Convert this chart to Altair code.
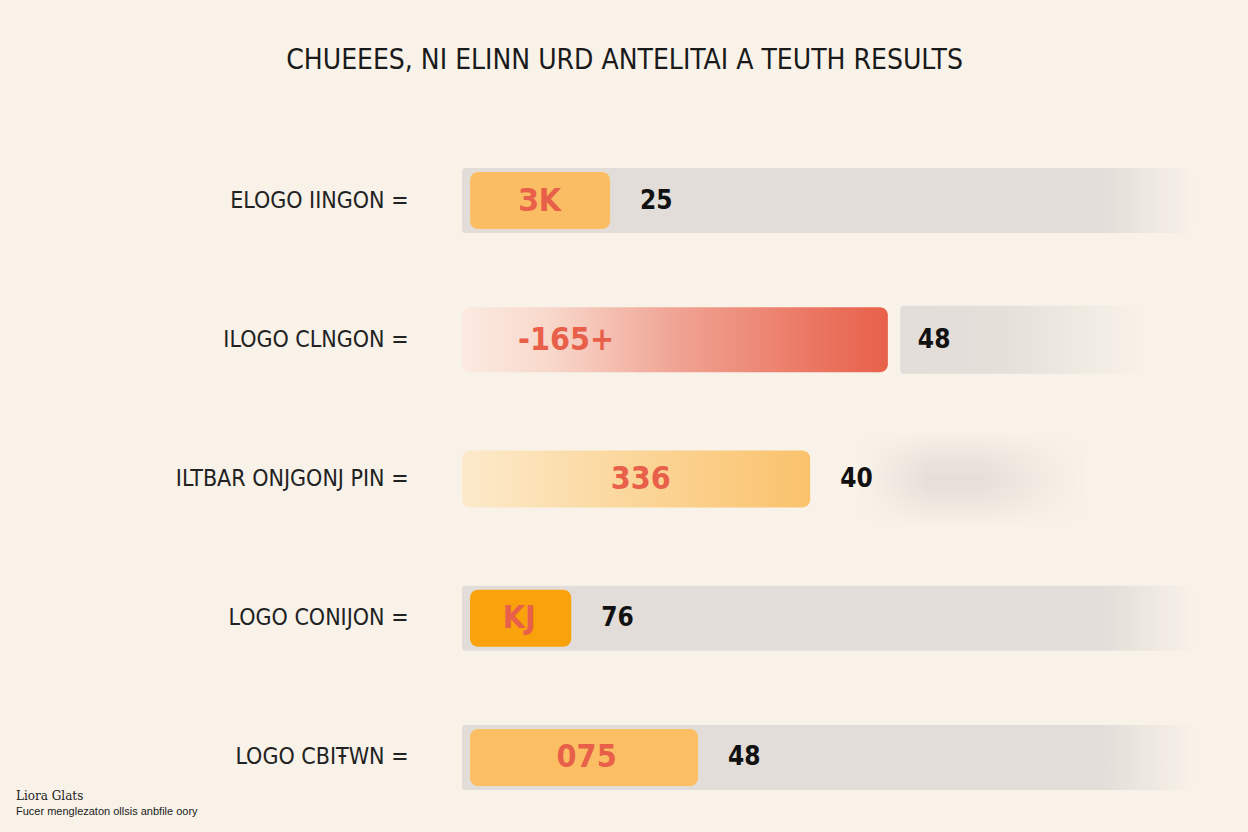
import altair as alt
import pandas as pd

# ---- data ----
labels = ["ELOGO IINGON =", "ILOGO CLNGON =", "ILTBAR ONJGONJ PIN =", "LOGO CONIJON =", "LOGO CBIŦWN ="]
bar_start = [1.1, 0.0, 0.0, 1.1, 1.1]
bar_end = [20.2, 58.1, 47.5, 14.9, 32.2]
inner_text = ["ЗK", "-165+", "336", "KJ", "075"]
inner_pos = [10.6, 14.2, 24.4, 7.8, 17.0]
values = ["25", "48", "40", "76", "48"]
track_start = [0.0, 59.8, 54.5, 0.0, 0.0]
track_end = [100.0, 95.0, 84.5, 100.0, 100.0]
title_text = "CHUEEES, NI ELINN URD ANTELITAI A TEUTH RESULTS"
foot_lines = ["Liora Glats", "Fucer menglezaton ollsis anbfile oory"]

BG = "#F8F2E9"
BG0 = "rgba(248,242,233,0)"
TRACK = "#E2DDD8"
NARROW = "DejaVu Sans Condensed, sans-serif"

df = pd.DataFrame({
    "row": list(range(len(labels))),
    "label": labels,
    "bar_start": bar_start,
    "bar_end": bar_end,
    "inner": inner_text,
    "inner_pos": inner_pos,
    "value": values,
    "track_start": track_start,
    "track_end": track_end,
})

xs = alt.Scale(domain=[0, 100], nice=False, zero=False)
ys = alt.Scale(domain=labels, paddingInner=0, paddingOuter=0)
y_enc = alt.Y("label:N", scale=ys, sort=labels, title=None,
              axis=alt.Axis(domain=False, ticks=False, grid=False, labelFontSize=23,
                            labelFont=NARROW, labelColor="#222222", labelPadding=54,
                            labelFontWeight="normal", labelLimit=0))

base = alt.Chart(df)

def lin(stops, vertical=False):
    if vertical:
        return alt.LinearGradient(gradient="linear", x1=0, x2=0, y1=0, y2=1,
                                  stops=[alt.GradientStop(offset=o, color=c) for o, c in stops])
    return alt.LinearGradient(gradient="linear", x1=0, x2=1, y1=0, y2=0,
                              stops=[alt.GradientStop(offset=o, color=c) for o, c in stops])

full_track = base.transform_filter("indexof([0,3,4], datum.row) >= 0").mark_bar(
    size=65, cornerRadius=3,
    color=lin([(0, TRACK), (0.87, TRACK), (1, BG)])
).encode(x=alt.X("track_start:Q", scale=xs, axis=None), x2="track_end:Q", y=y_enc)

short_track = base.transform_filter("datum.row == 1").mark_bar(
    size=68, cornerRadius=3,
    color=lin([(0, TRACK), (0.38, "#E4DFD9"), (0.95, BG), (1, BG)])
).encode(x=alt.X("track_start:Q", scale=xs), x2="track_end:Q", y=y_enc)

# soft smudge behind the third value: vertical fade, then a horizontal fade over it
shadow_v = base.transform_filter("datum.row == 2").mark_bar(
    size=95,
    color=lin([(0, BG), (0.3, "#EAE4DC"), (0.5, "#E5DFD8"), (0.7, "#EAE4DC"), (1, BG)], vertical=True)
).encode(x=alt.X("track_start:Q", scale=xs), x2="track_end:Q", y=y_enc)
shadow_h = base.transform_filter("datum.row == 2").mark_bar(
    size=96,
    color=lin([(0, BG), (0.3, BG0), (0.55, BG0), (1, BG)])
).encode(x=alt.X("track_start:Q", scale=xs), x2="track_end:Q", y=y_enc)

def bar(row, fill, size):
    return base.transform_filter(f"datum.row == {row}").mark_bar(
        size=size, cornerRadius=8, color=fill
    ).encode(x=alt.X("bar_start:Q", scale=xs), x2="bar_end:Q", y=y_enc)

bars = [
    bar(0, "#FBBD63", 57),
    bar(1, lin([(0, "#FBEAE1"), (0.2, "#F8D9CC"), (0.5, "#F0A494"), (0.8, "#EB7A66"), (1, "#E8604A")]), 65),
    bar(2, lin([(0, "#FCEACB"), (0.45, "#FBD89E"), (1, "#FAC26C")]), 57),
    bar(3, "#F9A20C", 57),
    bar(4, "#FBBE63", 57),
]

inner = base.mark_text(font="DejaVu Sans Condensed", fontWeight="bold", fontSize=32,
                       color="#E8604A", align="center", baseline="middle").encode(
    x=alt.X("inner_pos:Q", scale=xs), y=y_enc, text="inner:N")

vals = base.mark_text(font=NARROW, fontWeight="bold", fontSize=26, color="#111111",
                      align="left", baseline="middle", dx=30).encode(
    x=alt.X("bar_end:Q", scale=xs), y=y_enc, text="value:N")

foot = alt.Chart(pd.DataFrame({"t": foot_lines, "i": [0, 1]}))
foot1 = foot.transform_filter("datum.i == 0").mark_text(
    align="left", baseline="middle", fontSize=12, font="DejaVu Serif", color="#222222"
).encode(x=alt.value(-446), y=alt.value(665), text="t:N")
foot2 = foot.transform_filter("datum.i == 1").mark_text(
    align="left", baseline="middle", fontSize=11, font="Liberation Sans", color="#222222"
).encode(x=alt.value(-446), y=alt.value(681), text="t:N")

chart = alt.layer(full_track, short_track, shadow_v, shadow_h, *bars, inner, vals, foot1, foot2).properties(
    width=733, height=696,
    autosize=alt.AutoSizeParams(type="none"),
    padding={"left": 462, "top": 131, "right": 53, "bottom": 5},
    background=BG,
    title=alt.TitleParams(title_text, anchor="middle", dx=-204, offset=56, fontSize=28,
                          font=NARROW, fontWeight="normal", color="#1A1A1A"),
).configure_view(stroke=None)

chart.save("out.html", embed_options={"renderer": "svg", "actions": False})
